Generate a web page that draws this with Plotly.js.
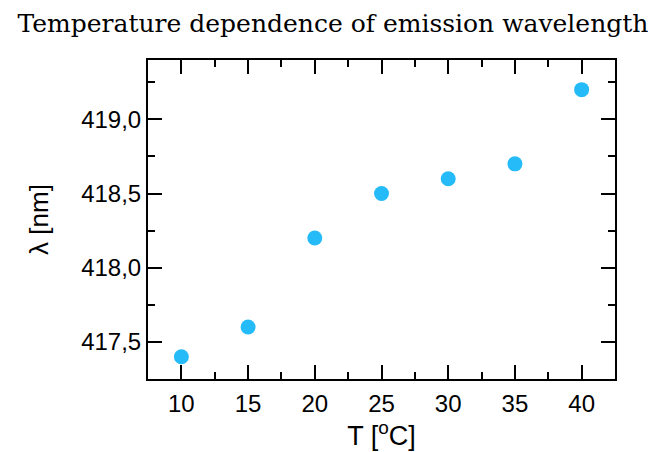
<!DOCTYPE html>
<html><head><meta charset="utf-8">
<script src="https://cdn.plot.ly/plotly-3.0.1.min.js"></script>
<style>html,body{margin:0;padding:0;background:#fff}#chart{width:666px;height:452px}</style>
</head><body><div id="chart"></div>
<script>
const temperatures = [10, 15, 20, 25, 30, 35, 40];
const wavelengths = [417.4, 417.6, 418.2, 418.5, 418.6, 418.7, 419.2];
const titleText = 'Temperature dependence of emission wavelength';
const xTitle = 'T [<sup>o</sup>C]';
const yTitle = 'λ [nm]';

const trace = {
  x: temperatures, y: wavelengths, type: 'scatter', mode: 'markers',
  marker: {color: '#25bbf8', size: 15, line: {width: 0}},
  hoverinfo: 'skip'
};
const axisCommon = {
  showgrid: false, zeroline: false, showline: true, linecolor: '#000', linewidth: 2,
  mirror: 'allticks', ticks: 'inside', ticklen: 14, tickwidth: 2, tickcolor: '#000',
  tickfont: {family: 'Liberation Sans, Arial, sans-serif', size: 24, color: '#000'}
};
const layout = {
  width: 666, height: 452,
  margin: {l: 148, r: 51, t: 60, b: 73},
  paper_bgcolor: '#fff', plot_bgcolor: '#fff',
  separators: ',.',
  showlegend: false,
  title: {text: titleText, x: 0.5, xanchor: 'center', y: 0.948, yanchor: 'middle',
    font: {family: 'DejaVu Serif, serif', size: 25, color: '#000'}},
  xaxis: Object.assign({}, axisCommon, {
    range: [7.5, 42.5], tickvals: [10, 15, 20, 25, 30, 35, 40], ticklabelstandoff: 2,
    minor: {ticks: 'inside', ticklen: 7, tickwidth: 2, tickcolor: '#000', dtick: 2.5, tick0: 7.5},
    title: {text: xTitle, standoff: 3, font: {family: 'Liberation Sans, Arial, sans-serif', size: 27, color: '#000'}}
  }),
  yaxis: Object.assign({}, axisCommon, {
    range: [417.25, 419.4], tickvals: [417.5, 418.0, 418.5, 419.0], tickformat: '.1f',
    minor: {ticks: 'inside', ticklen: 7, tickwidth: 2, tickcolor: '#000', dtick: 0.25, tick0: 417.25},
    title: {text: yTitle, standoff: 25, font: {family: 'Liberation Sans, Arial, sans-serif', size: 26, color: '#000'}}
  })
};
Plotly.newPlot('chart', [trace], layout, {displayModeBar: false, staticPlot: true});
</script></body></html>
